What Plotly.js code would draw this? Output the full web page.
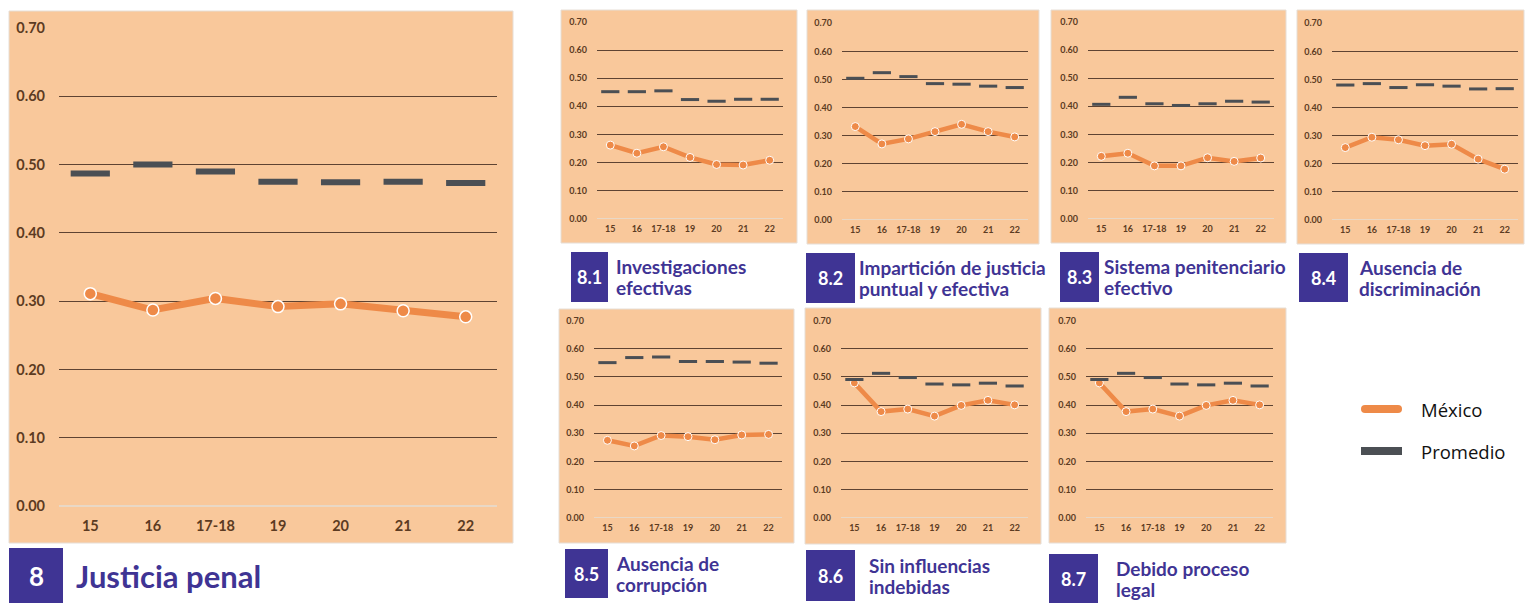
<!DOCTYPE html>
<html>
<head>
<meta charset="utf-8">
<script src="https://cdn.plot.ly/plotly-3.0.1.min.js"></script>
<style>html,body{margin:0;padding:0;background:#fff;}#chart{width:1525px;height:603px;}</style>
</head>
<body>
<div id="chart"></div>
<script>
// ---- Data ----
const categories = ["15", "16", "17-18", "19", "20", "21", "22"];
const yTicks = [0, 0.1, 0.2, 0.3, 0.4, 0.5, 0.6, 0.7];

const mexico_8   = [0.311, 0.287, 0.304, 0.292, 0.296, 0.286, 0.277];
const promedio_8 = [0.487, 0.500, 0.490, 0.475, 0.474, 0.475, 0.473];

const mexico_81   = [0.262, 0.233, 0.256, 0.218, 0.193, 0.191, 0.208];
const promedio_81 = [0.452, 0.452, 0.455, 0.424, 0.418, 0.425, 0.425];

const mexico_82   = [0.332, 0.270, 0.288, 0.314, 0.340, 0.314, 0.295];
const promedio_82 = [0.504, 0.524, 0.510, 0.485, 0.483, 0.476, 0.471];

const mexico_83   = [0.222, 0.233, 0.188, 0.188, 0.217, 0.204, 0.216];
const promedio_83 = [0.407, 0.432, 0.409, 0.403, 0.409, 0.418, 0.415];

const mexico_84   = [0.257, 0.294, 0.285, 0.264, 0.269, 0.216, 0.180];
const promedio_84 = [0.480, 0.485, 0.471, 0.481, 0.476, 0.466, 0.467];

const mexico_85   = [0.275, 0.255, 0.292, 0.288, 0.277, 0.294, 0.296];
const promedio_85 = [0.551, 0.569, 0.571, 0.555, 0.555, 0.553, 0.549];

const mexico_86   = [0.479, 0.377, 0.386, 0.361, 0.399, 0.417, 0.401];
const promedio_86 = [0.491, 0.513, 0.498, 0.475, 0.472, 0.478, 0.468];

const mexico_87   = [0.479, 0.377, 0.386, 0.361, 0.399, 0.417, 0.401];
const promedio_87 = [0.491, 0.513, 0.498, 0.475, 0.472, 0.478, 0.468];

const codes  = ["8", "8.1", "8.2", "8.3", "8.4", "8.5", "8.6", "8.7"];
const titles = [["Justicia penal"], ["Investigaciones", "efectivas"], ["Impartición de justicia", "puntual y efectiva"],
  ["Sistema penitenciario", "efectivo"], ["Ausencia de", "discriminación"], ["Ausencia de", "corrupción"],
  ["Sin influencias", "indebidas"], ["Debido proceso", "legal"]];
const legendLabels = ["México", "Promedio"];

// ---- Layout geometry (pixels) ----
const W = 1525, H = 603;
const seriesMex = [mexico_8, mexico_81, mexico_82, mexico_83, mexico_84, mexico_85, mexico_86, mexico_87];
const seriesProm = [promedio_8, promedio_81, promedio_82, promedio_83, promedio_84, promedio_85, promedio_86, promedio_87];

// plot area [x0, x1, yTop(0.70), yBottom(0.00)]
const plots = [
  [59, 497, 28, 506],
  [597, 783, 22, 218.7],
  [842, 1028, 23.3, 219.7],
  [1088, 1274, 22, 218.7],
  [1332, 1518, 23.3, 219.7],
  [594, 782, 320.7, 517.7],
  [841, 1028, 320.7, 517.7],
  [1086, 1273, 320.7, 517.7]
];
// panel background [x0, x1, y0, y1]
const panels = [
  [9, 513, 11, 543],
  [561, 797, 10, 243],
  [807, 1039, 10, 244],
  [1051, 1286, 10, 243],
  [1297, 1524, 10, 244],
  [559, 794, 309, 543],
  [805, 1041, 308, 544],
  [1049, 1286, 308, 543]
];
// code box [x0, x1, y0, y1], title text x
const boxes = [
  [9, 63, 548, 603, 74],
  [571, 608, 252, 302, 614],
  [806, 855, 253, 303, 857],
  [1060, 1099, 252, 302, 1102],
  [1299, 1348, 253, 302, 1357],
  [565, 608, 549, 598, 614],
  [806, 855, 550, 601, 867],
  [1049, 1098, 554, 603, 1114]
];

const px = x => x / W;
const py = y => 1 - y / H;

const ORANGE = "#EE8A48";
const DARK = "#4B4F54";
const PURPLE = "#3F3494";
const PANEL = "#F9C89B";
const GRID = "#5E4332";
const TICK = "#5C3B22";

const traces = [];
const layout = {
  width: W, height: H,
  margin: {l: 0, r: 0, t: 0, b: 0},
  paper_bgcolor: "#ffffff",
  plot_bgcolor: "rgba(0,0,0,0)",
  showlegend: false,
  font: {family: "Lato, sans-serif"},
  shapes: [],
  annotations: []
};

for (let i = 0; i < 8; i++) {
  const big = i === 0;
  const sfx = i === 0 ? "" : String(i + 1);
  const xa = "x" + sfx, ya = "y" + sfx;
  const p = plots[i];
  traces.push({
    type: "scatter", mode: "lines+markers", x: categories, y: seriesMex[i],
    xaxis: xa, yaxis: ya, cliponaxis: false,
    line: {color: ORANGE, width: big ? 7 : 4.5},
    marker: {color: ORANGE, size: big ? 12 : 8, line: {color: "#ffffff", width: big ? 1.5 : 1}},
    name: legendLabels[0], hoverinfo: "skip"
  });
  traces.push({
    type: "scatter", mode: "markers", x: categories, y: seriesProm[i],
    xaxis: xa, yaxis: ya, cliponaxis: false,
    marker: {symbol: "line-ew", size: big ? 28 : 13, color: DARK, line: {color: DARK, width: big ? 6 : 3}},
    name: legendLabels[1], hoverinfo: "skip"
  });
  const fs = big ? 14.5 : 9;
  layout["xaxis" + sfx] = {
    domain: [px(p[0]), px(p[1])], anchor: ya, type: "category",
    categoryorder: "array", categoryarray: categories,
    range: [-0.5, 6.5], showgrid: false, zeroline: false, showline: false,
    ticks: "", tickfont: {family: "Lato", size: fs, color: TICK, weight: "bold"},
    ticklabelstandoff: big ? 9 : 3, fixedrange: true
  };
  layout["yaxis" + sfx] = {
    domain: [py(p[3]), py(p[2])], anchor: xa,
    range: [0, 0.7], tickvals: yTicks, tickformat: ".2f",
    showgrid: true, gridcolor: GRID, gridwidth: 1,
    zeroline: true, zerolinecolor: "#E9D8C6", zerolinewidth: 1.5,
    showline: false, ticks: "",
    tickfont: {family: "Lato", size: fs, color: TICK, weight: "bold"},
    ticklabelstandoff: big ? 13 : 9, fixedrange: true
  };
  const pn = panels[i];
  layout.shapes.push({type: "rect", xref: "paper", yref: "paper", layer: "below",
    x0: px(pn[0]), x1: px(pn[1]), y0: py(pn[3]), y1: py(pn[2]),
    fillcolor: PANEL, line: {color: "#E6DED6", width: 1}});
  const b = boxes[i];
  layout.shapes.push({type: "rect", xref: "paper", yref: "paper", layer: "above",
    x0: px(b[0]), x1: px(b[1]), y0: py(b[3]), y1: py(b[2]),
    fillcolor: PURPLE, line: {width: 0}});
  const cy = (b[2] + b[3]) / 2;
  layout.annotations.push({xref: "paper", yref: "paper", x: px((b[0] + b[1]) / 2), y: py(cy),
    text: "<b>" + codes[i] + "</b>", showarrow: false, xanchor: "center", yanchor: "middle",
    font: {family: "Lato", size: big ? 26 : 18, color: "#ffffff"}});
  const lines = titles[i];
  const gap = 21;
  lines.forEach((t, k) => {
    const ly = cy + (k - (lines.length - 1) / 2) * gap;
    layout.annotations.push({xref: "paper", yref: "paper", x: px(b[4]), y: py(ly),
      text: "<b>" + t + "</b>", showarrow: false, xanchor: "left", yanchor: "middle", align: "left",
      font: {family: "Lato", size: big ? 31 : 19, color: PURPLE}});
  });
}

// legend swatches
layout.shapes.push({type: "rect", xref: "paper", yref: "paper", x0: px(1365), x1: px(1398), y0: py(413), y1: py(405),
  fillcolor: ORANGE, line: {width: 0}, layer: "above"});
layout.shapes.push({type: "circle", xref: "paper", yref: "paper", x0: px(1361), x1: px(1369), y0: py(413), y1: py(405),
  fillcolor: ORANGE, line: {width: 0}, layer: "above"});
layout.shapes.push({type: "circle", xref: "paper", yref: "paper", x0: px(1394), x1: px(1402), y0: py(413), y1: py(405),
  fillcolor: ORANGE, line: {width: 0}, layer: "above"});
layout.shapes.push({type: "rect", xref: "paper", yref: "paper", x0: px(1361), x1: px(1402), y0: py(455), y1: py(447),
  fillcolor: DARK, line: {width: 0}, layer: "above"});
layout.annotations.push({xref: "paper", yref: "paper", x: px(1419), y: py(409), text: legendLabels[0],
  showarrow: false, xanchor: "left", yanchor: "middle", font: {family: "Open Sans", size: 18.5, color: "#111"}});
layout.annotations.push({xref: "paper", yref: "paper", x: px(1419), y: py(451), text: legendLabels[1],
  showarrow: false, xanchor: "left", yanchor: "middle", font: {family: "Open Sans", size: 18.5, color: "#111"}});

Plotly.newPlot("chart", traces, layout, {staticPlot: true, displayModeBar: false});
</script>
</body>
</html>
